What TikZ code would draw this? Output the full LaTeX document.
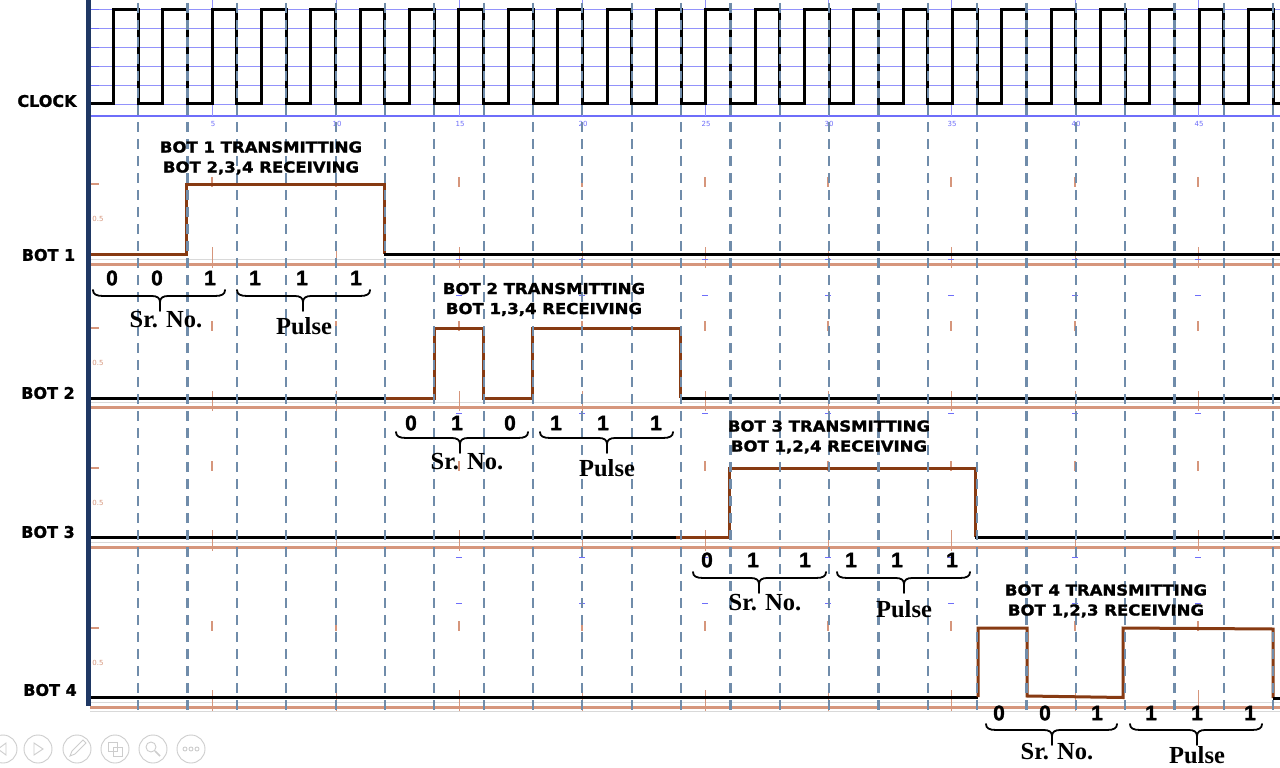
\documentclass[tikz,border=0pt]{standalone}
\usepackage{fontspec}
\setmainfont{Liberation Serif}
\newfontfamily\lblfont[FakeBold=1.2]{DejaVu Sans Bold}
\newfontfamily\ttlfont[FakeStretch=1.1,FakeBold=1.5]{DejaVu Sans Bold}
\newfontfamily\bitfont[FakeBold=1.6]{Liberation Sans Bold}
\newfontfamily\tinyfont{DejaVu Sans}
\usetikzlibrary{calc}
\definecolor{brn}{RGB}{135,58,18}
\definecolor{orl}{RGB}{214,150,124}
\definecolor{navybar}{RGB}{31,56,100}
\definecolor{dgrey}{RGB}{112,140,170}
\definecolor{gblue}{RGB}{110,110,250}
\definecolor{iconc}{RGB}{205,205,205}
\tikzset{
  lbl/.style={font=\lblfont\fontsize{16}{16}\selectfont, inner sep=0pt},
  ttl/.style={font=\ttlfont\fontsize{15}{20}\selectfont, align=center, inner sep=0pt},
  bit/.style={font=\bitfont\fontsize{21}{21}\selectfont, inner sep=0pt},
  grp/.style={font=\bfseries\fontsize{24.5}{24.5}\selectfont, inner sep=0pt},
  axlbl/.style={font=\tinyfont\fontsize{7}{7}\selectfont, text=gblue, inner sep=0pt},
  olbl/.style={font=\tinyfont\fontsize{7}{7}\selectfont, text=orl, inner sep=0pt},
  trace/.style={line width=3pt, line join=miter, brn},
  baseln/.style={line width=3pt, black},
  orline/.style={line width=3pt, orl},
  greyln/.style={line width=0.8pt, black!15},
  gridln/.style={line width=0.8pt, gblue!75},
  vdash/.style={line width=2.2pt, dgrey, dash pattern=on 10pt off 7pt},
  otick/.style={line width=1.2pt, orl},
  btick/.style={line width=0.9pt, gblue},
  bracestyle/.style={line width=1.8pt, black, line cap=round},
  iconstyle/.style={line width=0.9pt, iconc}
}
\newcommand{\curlybrace}[4]{%
  \draw[bracestyle] ({#1},{#3}) .. controls ({#1},{#3+4}) and ({#1+3},{#3+6}) .. ({#1+10},{#3+6})
    -- ({#4-8},{#3+6}) .. controls ({#4-3},{#3+6}) and ({#4},{#3+8}) .. ({#4},{#3+12}) -- ({#4},{#3+21});
  \draw[bracestyle] ({#4},{#3+12}) .. controls ({#4},{#3+8}) and ({#4+3},{#3+6}) .. ({#4+8},{#3+6})
    -- ({#2-10},{#3+6}) .. controls ({#2-3},{#3+6}) and ({#2},{#3+4}) .. ({#2},{#3});
}
\begin{document}
\begin{tikzpicture}[x=1pt,y=-1pt]
\useasboundingbox (0,0) rectangle (1280,768);
\fill[white] (0,0) rectangle (1280,768);

% ---- clock grid ----
\foreach \yy in {9.3,28,47,66,85,104} {
  \draw[gridln] (90,\yy) -- (1280,\yy);
  \draw[btick] (91,\yy) -- (99,\yy);
}
\draw[line width=1.4pt, gblue] (90,116) -- (1280,116);
\foreach \t/\x in {5/212,10/336,15/459,20/582,25/705,30/828,35/951,40/1075,45/1198} {
  \draw[gridln] (\x,0) -- (\x,116);
  \node[axlbl] (ax\t) at (\x+1,123.5) {\t};
}

% ---- orange baselines and grey hairlines ----
\foreach \yo in {264,407,547,707} {
  \draw[greyln] (90,\yo-5) -- (1280,\yo-5);
  \draw[orline] (90,\yo) -- (1280,\yo);
}
\draw[greyln] (90,711.5) -- (1280,711.5);

% ---- small plot ticks per panel ----
\foreach \yh/\yb/\yo in {184/254/264,328/398/407,468/537/547,628/697/707} {
  \draw[otick] (91,\yh) -- (99,\yh);
  \node[olbl] at (98,\yh+35) {0.5};
  \foreach \x in {212,336,459,582,705,828,951,1075,1198} {
    \draw[otick] (\x,\yh-7) -- (\x,\yh+3);
    \draw[line width=0.8pt, orl] (\x,\yb-7) -- (\x,\yo+4);
  }
}
\foreach \yy in {259,295,413,557,603} {
  \foreach \x in {459,582,705,828,951,1075,1198} {
    \draw[btick] (\x-3,\yy) -- (\x+3,\yy);
  }
}

% ---- clock signal ----
\draw[line width=3pt, black, line join=miter] (90,103.7)
  foreach \k in {0,...,23} { -- ({113.5+49.35*\k},103.7) -- ({113.5+49.35*\k},9.3)
  -- ({138.2+49.35*\k},9.3) -- ({138.2+49.35*\k},103.7) } -- (1280,103.7);

% ---- BOT 1 ----
\draw[trace] (90,254) -- (186,254) -- (186,184) -- (384,184) -- (384,254);
\draw[baseln] (384,254) -- (1280,254);
% ---- BOT 2 ----
\draw[baseln] (90,398) -- (386,398);
\draw[trace] (386,398) -- (434,398) -- (434,328) -- (483,328) -- (483,398) -- (532,398)
  -- (532,328) -- (680,328) -- (680,398);
\draw[baseln] (680,398) -- (1280,398);
% ---- BOT 3 ----
\draw[baseln] (90,537) -- (676,537);
\draw[trace] (676,537) -- (729,537) -- (729,468) -- (975,468) -- (975,537);
\draw[baseln] (975,537) -- (1280,537);
% ---- BOT 4 ----
\draw[baseln] (90,697) -- (978,697);
\draw[trace] (978,697) -- (978,628) -- (1027,628) -- (1027,696) -- (1123,697.5)
  -- (1123,628) -- (1273,629) -- (1273,698);
\draw[baseln] (1273,698) -- (1280,698);

% ---- dashed clock-edge guides ----
\foreach \k in {0,...,23} {
  \draw[vdash] ({138.2+49.35*\k},3) -- ({138.2+49.35*\k},713);
}

% ---- left bar ----
\fill[navybar] (86,0) rectangle (91,706);

% ---- signal names ----
\node[lbl] (clk) at (47,101) {CLOCK};
\node[lbl] (n1) at (48.5,255) {BOT 1};
\node[lbl] (n2) at (48,393) {BOT 2};
\node[lbl] (n3) at (48,532) {BOT 3};
\node[lbl] (n4) at (50,690) {BOT 4};

% ---- titles ----
\node[ttl] (t1) at (261,158) {BOT 1 TRANSMITTING\\BOT 2,3,4 RECEIVING};
\node[ttl] (t2) at (544,299.5) {BOT 2 TRANSMITTING\\BOT 1,3,4 RECEIVING};
\node[ttl] (t3) at (829,437) {BOT 3 TRANSMITTING\\BOT 1,2,4 RECEIVING};
\node[ttl] (t4) at (1106,601) {BOT 4 TRANSMITTING\\BOT 1,2,3 RECEIVING};

% ---- bits ----
\foreach \x/\b [count=\i] in {112/0,157/0,210/1,255/1,302/1,356/1}
  \node[bit] (ba\i) at (\x,278) {\b};
\foreach \x/\b [count=\i] in {411/0,457/1,510/0,556/1,603/1,656/1}
  \node[bit] (bb\i) at (\x,423) {\b};
\foreach \x/\b [count=\i] in {707/0,753/1,805/1,851/1,897/1,952/1}
  \node[bit] (bc\i) at (\x,560) {\b};
\foreach \x/\b [count=\i] in {999/0,1045/0,1097/1,1151/1,1197/1,1250/1}
  \node[bit] (bd\i) at (\x,713) {\b};

% ---- braces ----
\curlybrace{93}{225}{290}{160}
\curlybrace{237}{370}{290}{303}
\curlybrace{396}{528}{432}{460}
\curlybrace{540}{673}{432}{607}
\curlybrace{693}{826}{572}{759}
\curlybrace{837}{970}{572}{904}
\curlybrace{986}{1117}{724}{1052}
\curlybrace{1130}{1262}{724}{1197}

% ---- group labels ----
\node[grp] (s1) at (166,320) {Sr. No.};
\node[grp] (p1) at (304,326) {Pulse};
\node[grp] (s2) at (467,462) {Sr. No.};
\node[grp] (p2) at (607,468) {Pulse};
\node[grp] (s3) at (765,603) {Sr. No.};
\node[grp] (p3) at (904,609) {Pulse};
\node[grp] (s4) at (1057,752) {Sr. No.};
\node[grp] (p4) at (1197,755) {Pulse};

% ---- toolbar icons ----
\begin{scope}[iconstyle]
  \draw (3,749) circle (14);
  \draw (-2,749) -- (6,743) -- (6,755) -- cycle;
  \draw (38,749) circle (14);
  \draw (34,743) -- (43,749) -- (34,755) -- cycle;
  \draw (77,749) circle (14);
  \draw (70,756) -- (72,751) -- (83,740) -- (86,743) -- (75,754) -- cycle;
  \draw (115,749) circle (14);
  \draw (108,742) rectangle (117,751);
  \draw (113,747) rectangle (122,756);
  \draw (153,749) circle (14);
  \draw (151,747) circle (5);
  \draw[line width=1.5pt] (155,751) -- (160,756);
  \draw (191,749) circle (14);
  \draw (185,749) circle (2);
  \draw (191,749) circle (2);
  \draw (197,749) circle (2);
\end{scope}
\end{tikzpicture}
\end{document}
